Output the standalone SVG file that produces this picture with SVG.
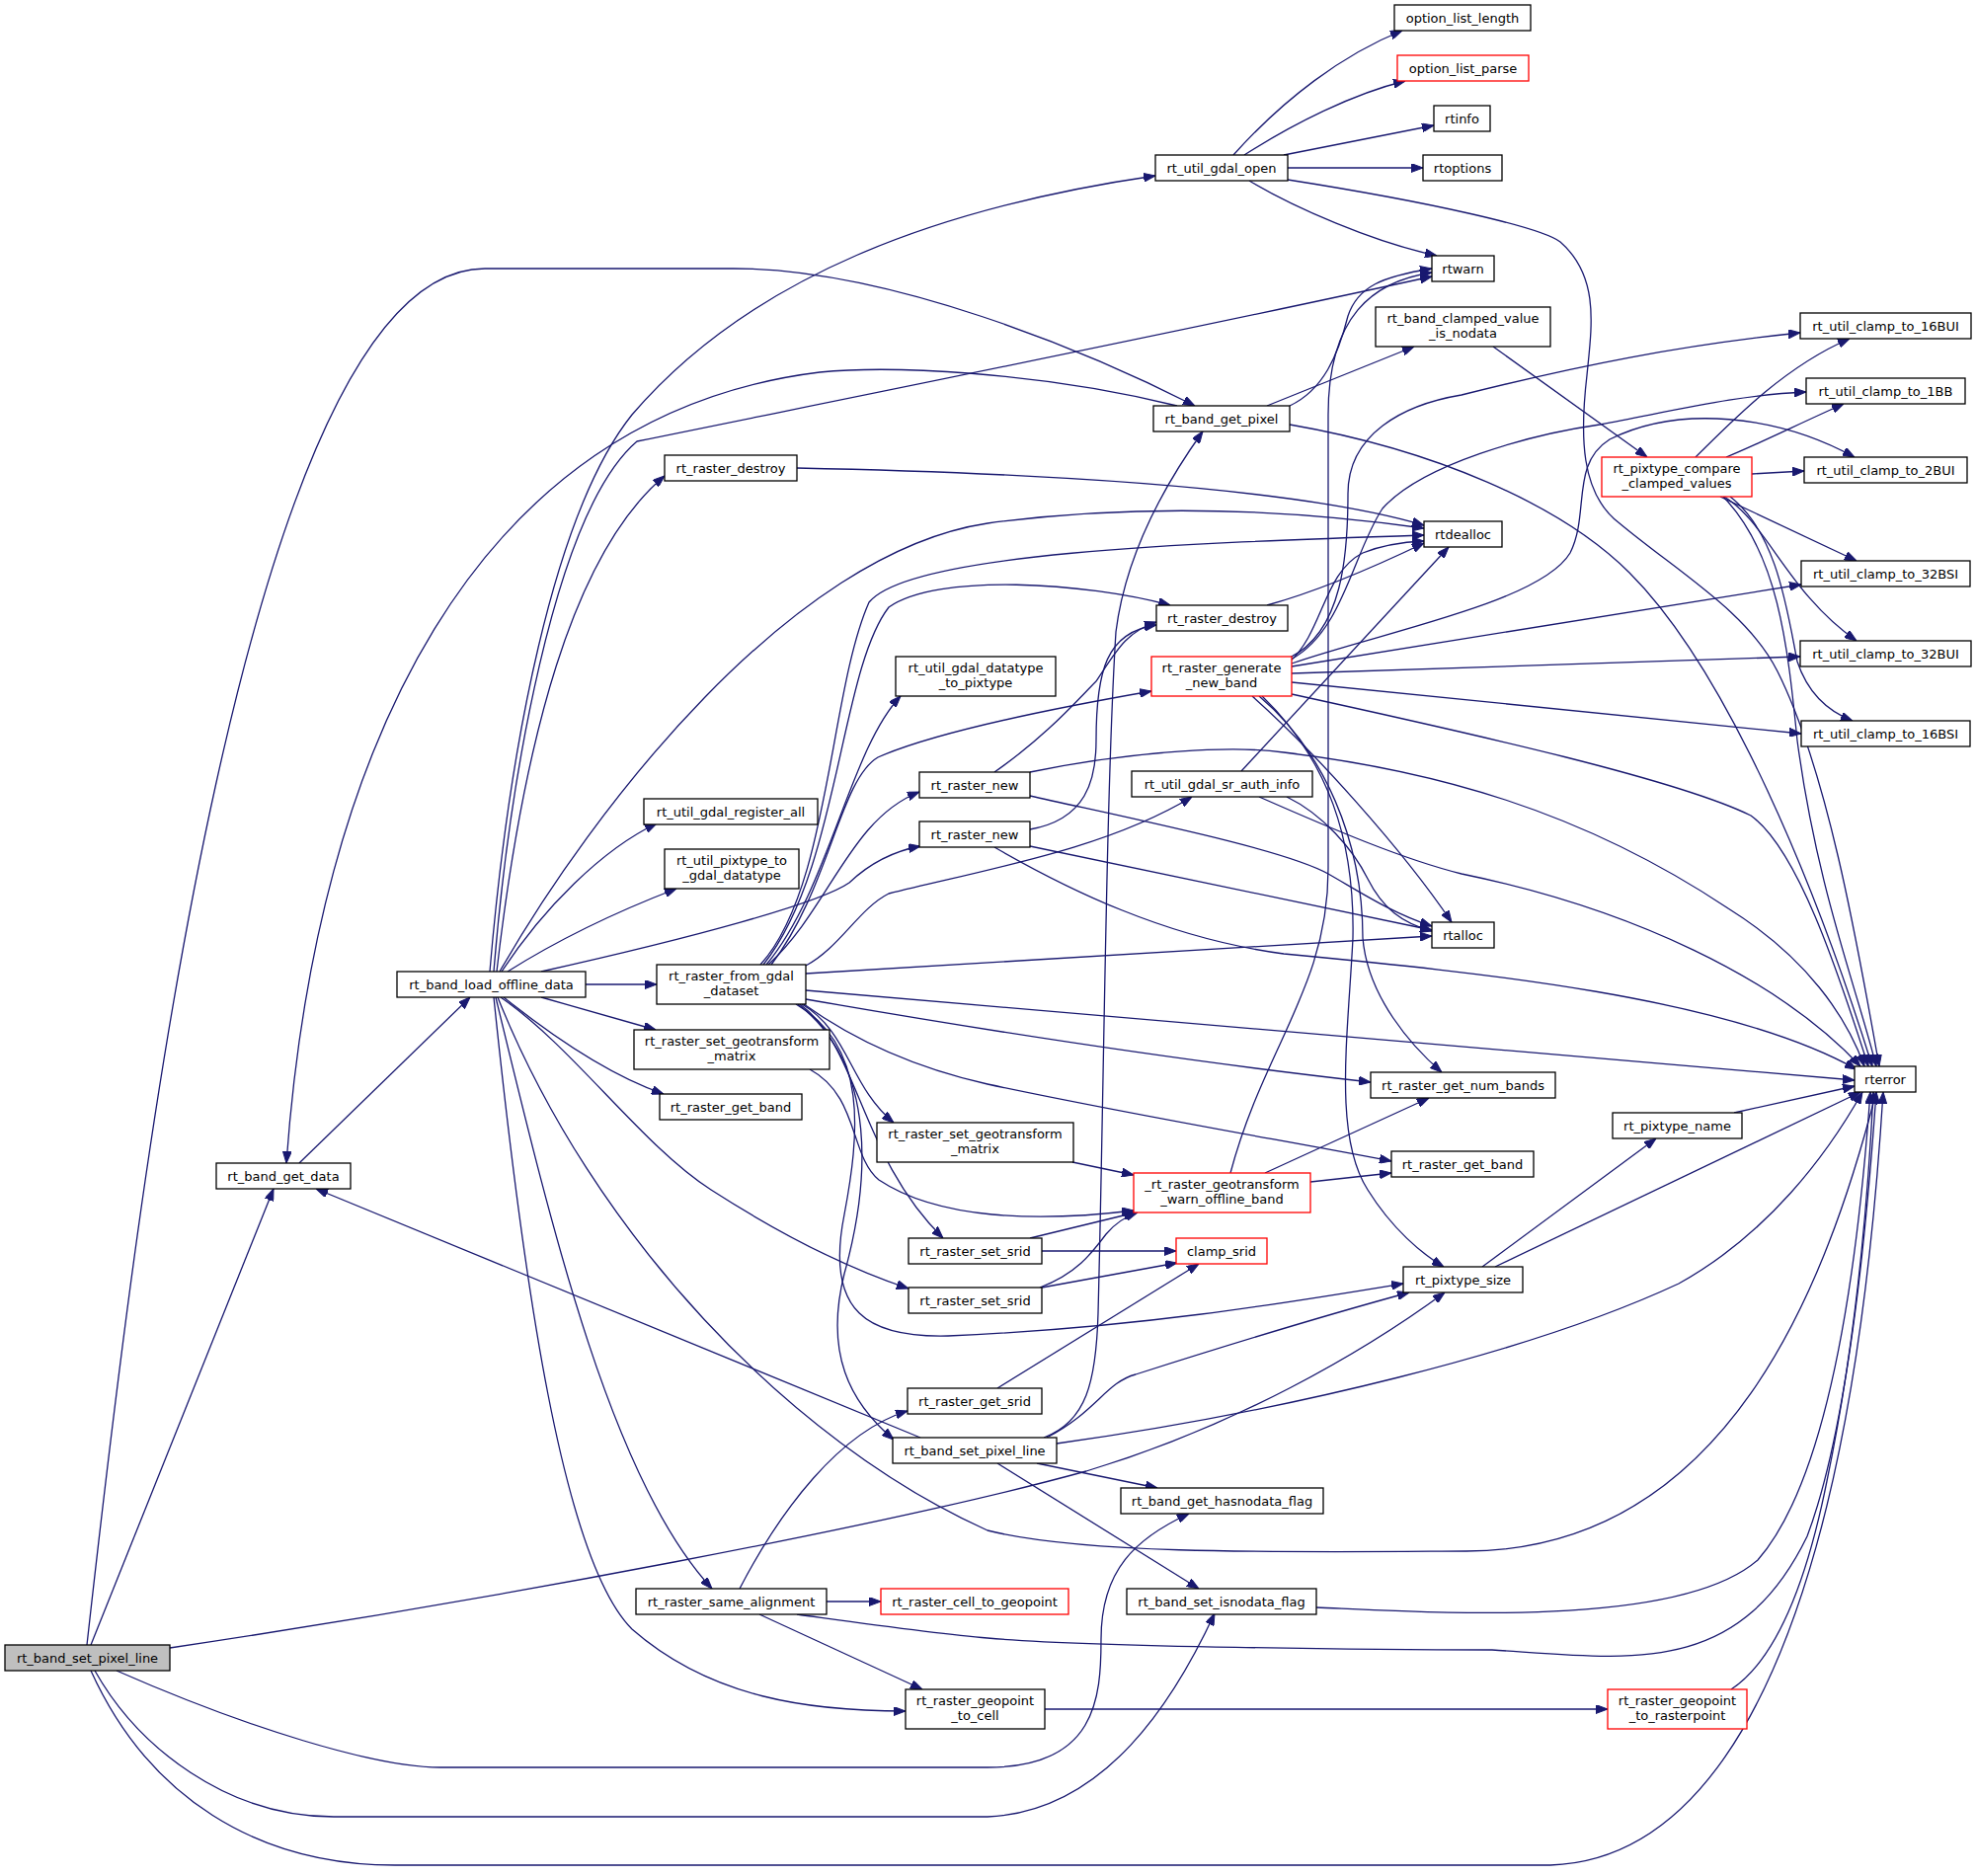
<svg xmlns="http://www.w3.org/2000/svg" width="2001" height="1900" viewBox="0 0 2001 1900">
<defs>
<marker id="arr" markerUnits="userSpaceOnUse" markerWidth="12" markerHeight="9" refX="12" refY="4.5" orient="auto">
<path d="M0,0 L12,4.5 L0,9 z" fill="#191970" stroke="#191970" stroke-width="1"/>
</marker>
</defs>
<style>
.n rect{fill:#ffffff;stroke:#000000;stroke-width:1.3}
.n.red rect{stroke:#ff0000}
.n.root rect{fill:#bfbfbf}
text{font-family:"DejaVu Sans","Liberation Sans",sans-serif;font-size:13px;text-anchor:middle;fill:#000000}
#edges path{fill:none;stroke:#191970;stroke-width:1.3;marker-end:url(#arr)}
</style>
<rect width="2001" height="1900" fill="#ffffff"/>
<g id="edges">
<path d="M92,1666 L277,1204"/>
<path d="M88,1666 C140,1200 250,272 491,272 L743,272 C900,272 1100,355 1210,411"/>
<path d="M1192,411 C1050,376 900,370 830,377 C480,420 320,760 290,1178"/>
<path d="M303,1178 L476,1010"/>
<path d="M172,1669 C500,1620 900,1545 1100,1490 C1250,1445 1380,1370 1463,1309"/>
<path d="M118,1692 C250,1750 380,1790 446,1790 L1000,1790 C1110,1790 1115,1720 1115,1660 C1115,1590 1150,1558 1204,1533"/>
<path d="M96,1692 C140,1770 230,1840 338,1840 L1000,1840 C1120,1835 1190,1720 1230,1634"/>
<path d="M92,1692 C150,1820 260,1889 400,1889 L1570,1889 C1850,1880 1895,1300 1907,1106"/>
<path d="M496,984 C515,760 560,520 640,420 C760,280 950,210 1170,178"/>
<path d="M500,984 C515,800 560,520 645,447 C900,395 1200,335 1450,280"/>
<path d="M503,984 C530,750 580,560 673,482"/>
<path d="M506,984 C600,820 800,560 1000,530 C1150,510 1300,515 1442,535"/>
<path d="M508,984 C550,920 610,860 665,834"/>
<path d="M514,984 C560,955 620,925 685,900"/>
<path d="M548,984 C700,950 830,915 860,894 C880,875 905,862 932,857"/>
<path d="M593,997 L665,997"/>
<path d="M548,1010 L664,1043"/>
<path d="M510,1010 C560,1050 620,1090 672,1108"/>
<path d="M507,1010 C580,1060 650,1160 720,1205 C790,1250 860,1285 920,1305"/>
<path d="M504,1010 C600,1250 800,1460 1000,1550 C1100,1575 1300,1572 1485,1571 C1750,1570 1850,1300 1900,1106"/>
<path d="M502,1010 C560,1250 620,1500 721,1609"/>
<path d="M500,1010 C530,1300 570,1580 640,1650 C720,1720 820,1733 917,1733"/>
<path d="M770,977 C840,900 840,700 880,610 C920,560 1200,550 1442,542"/>
<path d="M773,977 C850,880 850,680 900,615 C950,580 1100,590 1185,613"/>
<path d="M776,977 C840,900 860,760 912,705"/>
<path d="M778,977 C840,920 860,830 931,802"/>
<path d="M781,977 C840,900 850,790 889,767 C950,740 1080,715 1166,700"/>
<path d="M816,978 C850,960 870,920 900,905 C1000,880 1120,860 1207,807"/>
<path d="M816,986 L1450,948"/>
<path d="M816,1003 L1878,1094"/>
<path d="M816,1012 C1000,1044 1200,1075 1388,1096"/>
<path d="M814,1017 C860,1050 920,1080 1000,1098 C1150,1130 1300,1155 1409,1176"/>
<path d="M812,1017 C860,1045 860,1100 905,1137"/>
<path d="M810,1017 C870,1060 870,1170 955,1254"/>
<path d="M808,1017 C890,1080 880,1200 855,1290 C835,1370 860,1420 905,1458"/>
<path d="M806,1017 C880,1060 870,1150 855,1230 C835,1330 880,1355 960,1353 C1150,1345 1300,1320 1421,1300"/>
<path d="M932,1456 L320,1204"/>
<path d="M1057,1456 C1100,1440 1110,1400 1112,1330 C1118,1100 1120,800 1130,640 C1140,560 1180,490 1218,437"/>
<path d="M1060,1456 C1110,1430 1120,1400 1150,1392 C1250,1360 1350,1330 1427,1309"/>
<path d="M1070,1462 C1300,1430 1550,1370 1700,1300 C1790,1250 1850,1170 1886,1106"/>
<path d="M1050,1482 L1172,1507"/>
<path d="M1010,1482 L1214,1609"/>
<path d="M837,1622 L892,1622"/>
<path d="M749,1609 C790,1530 850,1450 919,1429"/>
<path d="M769,1635 L934,1711"/>
<path d="M807,1635 C880,1645 950,1655 1000,1659 C1100,1668 1400,1671 1511,1671 C1650,1680 1760,1700 1830,1556 C1870,1450 1890,1250 1900,1106"/>
<path d="M1058,1731 L1628,1731"/>
<path d="M1753,1711 C1800,1680 1830,1600 1850,1500 C1875,1380 1890,1250 1897,1106"/>
<path d="M1333,1628 C1450,1633 1700,1650 1780,1580 C1850,1500 1880,1300 1894,1106"/>
<path d="M1055,1267 L1191,1267"/>
<path d="M1043,1254 L1150,1228"/>
<path d="M1055,1304 L1192,1279"/>
<path d="M1053,1304 C1090,1290 1105,1270 1120,1250 C1130,1238 1140,1232 1152,1228"/>
<path d="M1010,1406 L1214,1280"/>
<path d="M1086,1177 L1148,1190"/>
<path d="M820,1083 C870,1110 860,1170 890,1195 C950,1235 1050,1238 1148,1226"/>
<path d="M1327,1197 L1409,1188"/>
<path d="M1281,1188 L1447,1112"/>
<path d="M1246,1188 C1280,1060 1345,1000 1345,880 L1345,420 C1345,320 1390,285 1450,276"/>
<path d="M1306,670 C1340,640 1340,580 1380,560 C1400,552 1420,549 1442,548"/>
<path d="M1306,666 C1360,640 1365,560 1365,500 C1365,440 1420,410 1480,400 C1600,370 1700,350 1823,337"/>
<path d="M1307,668 C1360,640 1370,560 1400,515 C1440,470 1550,440 1620,430 C1700,415 1760,400 1829,397"/>
<path d="M1308,672 C1400,640 1560,610 1590,560 C1610,520 1590,470 1630,445 C1700,410 1800,420 1878,463"/>
<path d="M1308,675 L1824,592"/>
<path d="M1308,682 L1823,665"/>
<path d="M1308,691 L1824,743"/>
<path d="M1308,703 C1500,745 1700,790 1773,826 C1820,860 1860,980 1892,1080"/>
<path d="M1268,705 C1330,760 1420,860 1470,934"/>
<path d="M1275,705 C1340,760 1380,850 1380,950 C1385,1010 1430,1060 1460,1086"/>
<path d="M1278,705 C1345,770 1372,850 1370,950 C1365,1050 1350,1150 1385,1205 C1410,1245 1440,1270 1462,1283"/>
<path d="M1512,351 L1668,463"/>
<path d="M1283,411 L1432,351"/>
<path d="M1306,411 C1340,395 1355,360 1365,320 C1375,290 1400,280 1450,272"/>
<path d="M1306,430 C1450,455 1580,510 1650,580 C1750,680 1840,900 1896,1080"/>
<path d="M1249,157 C1300,100 1360,55 1420,31"/>
<path d="M1260,157 C1310,125 1370,95 1423,82"/>
<path d="M1300,157 L1452,127"/>
<path d="M1304,170 L1441,170"/>
<path d="M1265,183 C1310,210 1390,245 1455,259"/>
<path d="M1304,182 C1450,205 1560,230 1580,245 C1620,280 1612,330 1607,380 C1600,440 1600,500 1640,530 C1700,580 1770,620 1800,680 C1850,780 1880,950 1903,1080"/>
<path d="M1717,463 C1760,420 1810,370 1873,343"/>
<path d="M1748,463 C1780,450 1820,430 1867,409"/>
<path d="M1774,480 L1827,477"/>
<path d="M1742,503 L1880,568"/>
<path d="M1746,503 C1790,530 1810,600 1880,649"/>
<path d="M1752,503 C1800,540 1810,620 1820,670 C1830,700 1850,720 1876,730"/>
<path d="M1745,503 C1800,560 1810,650 1820,750 C1840,900 1880,1000 1900,1080"/>
<path d="M807,474 C1000,478 1300,490 1442,532"/>
<path d="M1283,613 C1330,600 1390,575 1442,550"/>
<path d="M1007,782 C1060,745 1090,710 1110,690 C1130,660 1140,640 1171,630"/>
<path d="M1043,806 C1150,830 1300,860 1345,885 C1380,905 1410,925 1450,938"/>
<path d="M1043,782 C1150,760 1250,755 1300,762 C1450,780 1600,820 1750,920 C1830,970 1870,1030 1888,1080"/>
<path d="M1043,840 C1100,830 1110,790 1110,750 C1110,680 1120,640 1171,633"/>
<path d="M1043,857 L1450,942"/>
<path d="M1007,858 C1080,900 1180,950 1300,966 C1500,985 1750,1010 1880,1083"/>
<path d="M1257,781 L1467,554"/>
<path d="M1303,807 C1340,825 1370,860 1385,890 C1400,920 1420,935 1450,943"/>
<path d="M1275,807 C1350,840 1420,870 1480,885 C1650,920 1800,990 1884,1080"/>
<path d="M1756,1127 L1878,1100"/>
<path d="M1501,1283 L1677,1153"/>
<path d="M1514,1283 L1884,1106"/>
</g>
<g id="n_root" class="n root"><rect x="5" y="1666" width="167" height="26"/><text x="88.5" y="1683.5">rt_band_set_pixel_line</text></g>
<g id="n_get_data" class="n"><rect x="219" y="1178" width="136" height="26"/><text x="287" y="1195.5">rt_band_get_data</text></g>
<g id="n_load_offline" class="n"><rect x="402" y="984" width="191" height="26"/><text x="497.5" y="1001.5">rt_band_load_offline_data</text></g>
<g id="n_gdal_open" class="n"><rect x="1170" y="157" width="134" height="26"/><text x="1237" y="174.5">rt_util_gdal_open</text></g>
<g id="n_option_list_length" class="n"><rect x="1412" y="5" width="138" height="26"/><text x="1481" y="22.5">option_list_length</text></g>
<g id="n_option_list_parse" class="n red"><rect x="1415" y="56" width="133" height="26"/><text x="1481.5" y="73.5">option_list_parse</text></g>
<g id="n_rtinfo" class="n"><rect x="1452" y="107" width="57" height="26"/><text x="1480.5" y="124.5">rtinfo</text></g>
<g id="n_rtoptions" class="n"><rect x="1441" y="157" width="80" height="26"/><text x="1481" y="174.5">rtoptions</text></g>
<g id="n_rtwarn" class="n"><rect x="1450" y="259" width="63" height="26"/><text x="1481.5" y="276.5">rtwarn</text></g>
<g id="n_clamped_nodata" class="n"><rect x="1393" y="311" width="177" height="40"/><text x="1481.5" y="327">rt_band_clamped_value</text><text x="1481.5" y="342">_is_nodata</text></g>
<g id="n_get_pixel" class="n"><rect x="1168" y="411" width="138" height="26"/><text x="1237" y="428.5">rt_band_get_pixel</text></g>
<g id="n_destroy1" class="n"><rect x="673" y="461" width="134" height="26"/><text x="740" y="478.5">rt_raster_destroy</text></g>
<g id="n_rtdealloc" class="n"><rect x="1442" y="528" width="79" height="26"/><text x="1481.5" y="545.5">rtdealloc</text></g>
<g id="n_destroy2" class="n"><rect x="1171" y="613" width="133" height="26"/><text x="1237.5" y="630.5">rt_raster_destroy</text></g>
<g id="n_datatype_to_pixtype" class="n"><rect x="907" y="665" width="162" height="40"/><text x="988" y="681">rt_util_gdal_datatype</text><text x="988" y="696">_to_pixtype</text></g>
<g id="n_generate_new_band" class="n red"><rect x="1166" y="665" width="142" height="40"/><text x="1237" y="681">rt_raster_generate</text><text x="1237" y="696">_new_band</text></g>
<g id="n_register_all" class="n"><rect x="652" y="809" width="176" height="26"/><text x="740" y="826.5">rt_util_gdal_register_all</text></g>
<g id="n_raster_new1" class="n"><rect x="931" y="782" width="112" height="26"/><text x="987" y="799.5">rt_raster_new</text></g>
<g id="n_sr_auth_info" class="n"><rect x="1146" y="781" width="183" height="26"/><text x="1237.5" y="798.5">rt_util_gdal_sr_auth_info</text></g>
<g id="n_raster_new2" class="n"><rect x="931" y="832" width="112" height="26"/><text x="987" y="849.5">rt_raster_new</text></g>
<g id="n_pixtype_to_gdal" class="n"><rect x="673" y="860" width="136" height="40"/><text x="741" y="876">rt_util_pixtype_to</text><text x="741" y="891">_gdal_datatype</text></g>
<g id="n_rtalloc" class="n"><rect x="1450" y="934" width="63" height="26"/><text x="1481.5" y="951.5">rtalloc</text></g>
<g id="n_from_gdal" class="n"><rect x="665" y="977" width="151" height="40"/><text x="740.5" y="993">rt_raster_from_gdal</text><text x="740.5" y="1008">_dataset</text></g>
<g id="n_set_geo1" class="n"><rect x="642" y="1043" width="198" height="40"/><text x="741" y="1059">rt_raster_set_geotransform</text><text x="741" y="1074">_matrix</text></g>
<g id="n_get_band1" class="n"><rect x="668" y="1108" width="144" height="26"/><text x="740" y="1125.5">rt_raster_get_band</text></g>
<g id="n_set_geo2" class="n"><rect x="888" y="1137" width="199" height="40"/><text x="987.5" y="1153">rt_raster_set_geotransform</text><text x="987.5" y="1168">_matrix</text></g>
<g id="n_set_srid1" class="n"><rect x="920" y="1254" width="135" height="26"/><text x="987.5" y="1271.5">rt_raster_set_srid</text></g>
<g id="n_set_srid2" class="n"><rect x="920" y="1304" width="135" height="26"/><text x="987.5" y="1321.5">rt_raster_set_srid</text></g>
<g id="n_get_srid" class="n"><rect x="919" y="1406" width="136" height="26"/><text x="987" y="1423.5">rt_raster_get_srid</text></g>
<g id="n_set_pixel_line2" class="n"><rect x="904" y="1456" width="166" height="26"/><text x="987" y="1473.5">rt_band_set_pixel_line</text></g>
<g id="n_same_alignment" class="n"><rect x="644" y="1609" width="193" height="26"/><text x="740.5" y="1626.5">rt_raster_same_alignment</text></g>
<g id="n_cell_to_geopoint" class="n red"><rect x="892" y="1609" width="190" height="26"/><text x="987" y="1626.5">rt_raster_cell_to_geopoint</text></g>
<g id="n_geopoint_to_cell" class="n"><rect x="917" y="1711" width="141" height="40"/><text x="987.5" y="1727">rt_raster_geopoint</text><text x="987.5" y="1742">_to_cell</text></g>
<g id="n_geopoint_to_rasterpoint" class="n red"><rect x="1628" y="1711" width="141" height="40"/><text x="1698.5" y="1727">rt_raster_geopoint</text><text x="1698.5" y="1742">_to_rasterpoint</text></g>
<g id="n_hasnodata" class="n"><rect x="1135" y="1507" width="205" height="26"/><text x="1237.5" y="1524.5">rt_band_get_hasnodata_flag</text></g>
<g id="n_isnodata" class="n"><rect x="1141" y="1609" width="192" height="26"/><text x="1237" y="1626.5">rt_band_set_isnodata_flag</text></g>
<g id="n_rterror" class="n"><rect x="1878" y="1080" width="62" height="26"/><text x="1909" y="1097.5">rterror</text></g>
<g id="n_get_num_bands" class="n"><rect x="1388" y="1086" width="187" height="26"/><text x="1481.5" y="1103.5">rt_raster_get_num_bands</text></g>
<g id="n_pixtype_name" class="n"><rect x="1633" y="1127" width="131" height="26"/><text x="1698.5" y="1144.5">rt_pixtype_name</text></g>
<g id="n_get_band2" class="n"><rect x="1409" y="1166" width="144" height="26"/><text x="1481" y="1183.5">rt_raster_get_band</text></g>
<g id="n_warn_offline" class="n red"><rect x="1148" y="1188" width="179" height="40"/><text x="1237.5" y="1204">_rt_raster_geotransform</text><text x="1237.5" y="1219">_warn_offline_band</text></g>
<g id="n_clamp_srid" class="n red"><rect x="1191" y="1254" width="92" height="26"/><text x="1237" y="1271.5">clamp_srid</text></g>
<g id="n_pixtype_size" class="n"><rect x="1421" y="1283" width="121" height="26"/><text x="1481.5" y="1300.5">rt_pixtype_size</text></g>
<g id="n_compare" class="n red"><rect x="1622" y="463" width="152" height="40"/><text x="1698" y="479">rt_pixtype_compare</text><text x="1698" y="494">_clamped_values</text></g>
<g id="n_16BUI" class="n"><rect x="1823" y="317" width="173" height="26"/><text x="1909.5" y="334.5">rt_util_clamp_to_16BUI</text></g>
<g id="n_1BB" class="n"><rect x="1829" y="383" width="161" height="26"/><text x="1909.5" y="400.5">rt_util_clamp_to_1BB</text></g>
<g id="n_2BUI" class="n"><rect x="1827" y="463" width="165" height="26"/><text x="1909.5" y="480.5">rt_util_clamp_to_2BUI</text></g>
<g id="n_32BSI" class="n"><rect x="1824" y="568" width="171" height="26"/><text x="1909.5" y="585.5">rt_util_clamp_to_32BSI</text></g>
<g id="n_32BUI" class="n"><rect x="1823" y="649" width="173" height="26"/><text x="1909.5" y="666.5">rt_util_clamp_to_32BUI</text></g>
<g id="n_16BSI" class="n"><rect x="1824" y="730" width="171" height="26"/><text x="1909.5" y="747.5">rt_util_clamp_to_16BSI</text></g>
</svg>
